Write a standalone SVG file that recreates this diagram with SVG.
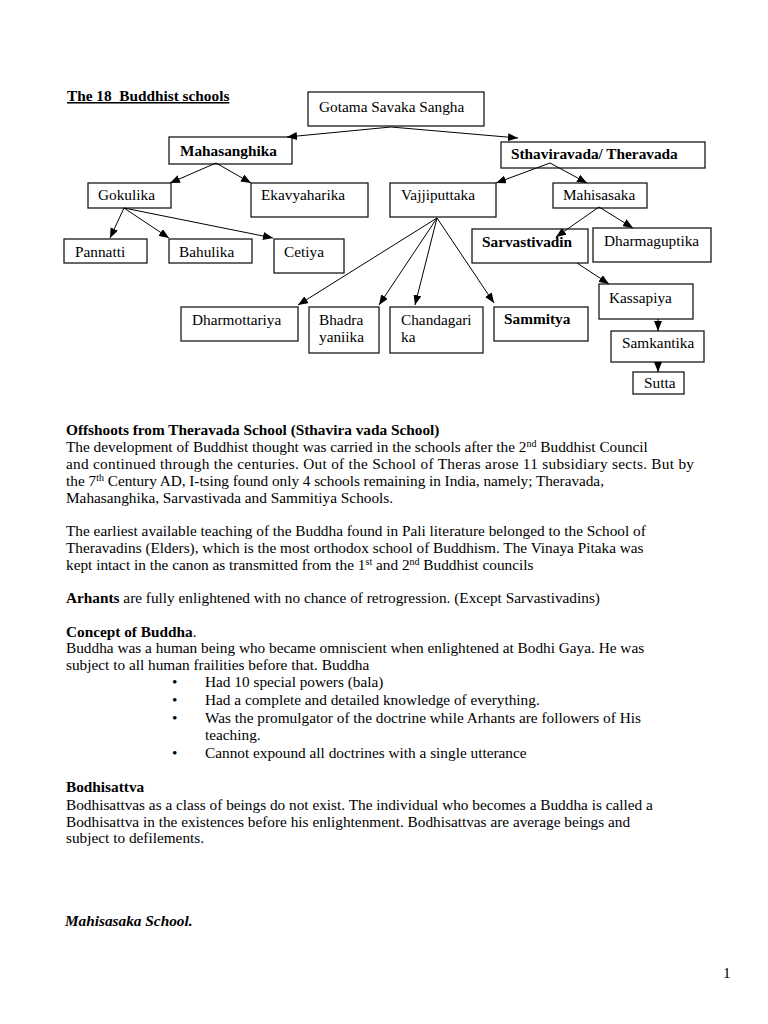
<svg xmlns="http://www.w3.org/2000/svg" width="768" height="1024" viewBox="0 0 768 1024">
<style>
text{font-family:"Liberation Serif","Times New Roman",serif;font-size:15.3px;fill:#000}
.b{font-weight:bold}
.box{fill:#fff;stroke:#1a1a1a;stroke-width:1.3}
.con{stroke:#000;stroke-width:1;fill:none;marker-end:url(#ah)}
.sup{font-size:10px}
</style>
<defs>
<marker id="ah" viewBox="0 0 10 8" refX="10" refY="4" markerWidth="10" markerHeight="8" markerUnits="userSpaceOnUse" orient="auto"><path d="M0,0 L10,4 L0,8 z" fill="#000"/></marker>
</defs>
<rect width="768" height="1024" fill="#fff"/>
<text x="67" y="101" class="b" text-decoration="underline">The 18&#160; Buddhist schools</text>

<g id="n-gotama"><rect class="box" x="308" y="92" width="176" height="34"/><text x="319" y="112">Gotama Savaka Sangha</text></g>
<g id="n-mahasanghika"><rect class="box" x="169" y="137" width="123" height="27"/><text x="180" y="156" class="b">Mahasanghika</text></g>
<g id="n-sthaviravada"><rect class="box" x="501" y="142" width="204" height="26"/><text x="511" y="159" class="b">Sthaviravada/ Theravada</text></g>
<g id="n-gokulika"><rect class="box" x="88" y="183" width="83" height="25"/><text x="98" y="200">Gokulika</text></g>
<g id="n-ekavyaharika"><rect class="box" x="251" y="183" width="117" height="34"/><text x="261" y="200">Ekavyaharika</text></g>
<g id="n-vajjiputtaka"><rect class="box" x="390" y="183" width="106" height="34"/><text x="401" y="200">Vajjiputtaka</text></g>
<g id="n-mahisasaka"><rect class="box" x="553" y="183" width="94" height="25"/><text x="563" y="200">Mahisasaka</text></g>
<g id="n-pannatti"><rect class="box" x="64" y="239" width="83" height="24"/><text x="75" y="257">Pannatti</text></g>
<g id="n-bahulika"><rect class="box" x="169" y="239" width="83" height="24"/><text x="179" y="257">Bahulika</text></g>
<g id="n-cetiya"><rect class="box" x="274" y="239" width="70" height="34"/><text x="284" y="257">Cetiya</text></g>
<g id="n-sarvastivadin"><rect class="box" x="472" y="229" width="116" height="34"/><text x="482" y="247" class="b">Sarvastivadin</text></g>
<g id="n-dharmaguptika"><rect class="box" x="593" y="228" width="118" height="34"/><text x="604" y="246">Dharmaguptika</text></g>
<g id="n-dharmottariya"><rect class="box" x="181" y="307" width="117" height="34"/><text x="192" y="325">Dharmottariya</text></g>
<g id="n-bhadrayaniika"><rect class="box" x="309" y="307" width="70" height="46"/><text x="319" y="325">Bhadra</text><text x="319" y="342">yaniika</text></g>
<g id="n-chandagarika"><rect class="box" x="390" y="307" width="93" height="46"/><text x="401" y="325">Chandagari</text><text x="401" y="342">ka</text></g>
<g id="n-sammitya"><rect class="box" x="494" y="307" width="94" height="34"/><text x="504" y="324" class="b">Sammitya</text></g>
<g id="n-kassapiya"><rect class="box" x="599" y="284" width="94" height="35"/><text x="609" y="303">Kassapiya</text></g>
<g id="n-samkantika"><rect class="box" x="611" y="331" width="93" height="31"/><text x="622" y="348">Samkantika</text></g>
<g id="n-sutta"><rect class="box" x="633" y="372" width="51" height="22"/><text x="644" y="388">Sutta</text></g>

<g id="connectors">
<line class="con" x1="391" y1="127" x2="287" y2="137"/>
<line class="con" x1="391" y1="127" x2="518" y2="138"/>
<line class="con" x1="216" y1="163" x2="170" y2="183"/>
<line class="con" x1="216" y1="163" x2="251" y2="183"/>
<line class="con" x1="124" y1="208" x2="110" y2="238"/>
<line class="con" x1="124" y1="208" x2="169" y2="238"/>
<line class="con" x1="124" y1="208" x2="273" y2="238"/>
<line class="con" x1="550" y1="163" x2="496" y2="183"/>
<line class="con" x1="550" y1="163" x2="587" y2="183"/>
<line class="con" x1="599" y1="207" x2="556" y2="237"/>
<line class="con" x1="599" y1="207" x2="633" y2="228"/>
<line class="con" x1="437" y1="218" x2="298" y2="305"/>
<line class="con" x1="437" y1="218" x2="379" y2="305"/>
<line class="con" x1="437" y1="218" x2="415" y2="305"/>
<line class="con" x1="437" y1="218" x2="494" y2="303"/>
<line class="con" x1="577" y1="263" x2="609" y2="284"/>
<line class="con" x1="658" y1="319" x2="658" y2="331"/>
<line class="con" x1="658" y1="362" x2="658" y2="372"/>
</g>

<g id="body">
<text x="66" y="435" class="b">Offshoots from Theravada School (Sthavira vada School)</text>
<text x="66" y="452">The development of Buddhist thought was carried in the schools after the 2<tspan class="sup" dy="-5">nd</tspan><tspan dy="5"> Buddhist Council</tspan></text>
<text x="66" y="469" textLength="628" lengthAdjust="spacing">and continued through the centuries. Out of the School of Theras arose 11 subsidiary sects. But by</text>
<text x="66" y="486">the 7<tspan class="sup" dy="-5">th</tspan><tspan dy="5" textLength="500" lengthAdjust="spacing"> Century AD, I-tsing found only 4 schools remaining in India, namely; Theravada,</tspan></text>
<text x="66" y="503">Mahasanghika, Sarvastivada and Sammitiya Schools.</text>
<text x="66" y="536">The earliest available teaching of the Buddha found in Pali literature belonged to the School of</text>
<text x="66" y="553">Theravadins (Elders), which is the most orthodox school of Buddhism. The Vinaya Pitaka was</text>
<text x="66" y="570">kept intact in the canon as transmitted from the 1<tspan class="sup" dy="-5">st</tspan><tspan dy="5"> and 2</tspan><tspan class="sup" dy="-5">nd</tspan><tspan dy="5"> Buddhist councils</tspan></text>
<text x="66" y="603"><tspan class="b">Arhants</tspan> are fully enlightened with no chance of retrogression. (Except Sarvastivadins)</text>
<text x="66" y="637"><tspan class="b">Concept of Buddha</tspan>.</text>
<text x="66" y="653">Buddha was a human being who became omniscient when enlightened at Bodhi Gaya. He was</text>
<text x="66" y="670">subject to all human frailities before that. Buddha</text>
<text x="172" y="687">•</text><text x="205" y="687">Had 10 special powers (bala)</text>
<text x="172" y="705">•</text><text x="205" y="705">Had a complete and detailed knowledge of everything.</text>
<text x="172" y="723">•</text><text x="205" y="723">Was the promulgator of the doctrine while Arhants are followers of His</text>
<text x="205" y="740">teaching.</text>
<text x="172" y="758">•</text><text x="205" y="758">Cannot expound all doctrines with a single utterance</text>
<text x="66" y="792" class="b">Bodhisattva</text>
<text x="66" y="810">Bodhisattvas as a class of beings do not exist. The individual who becomes a Buddha is called a</text>
<text x="66" y="827">Bodhisattva in the existences before his enlightenment. Bodhisattvas are average beings and</text>
<text x="66" y="843">subject to defilements.</text>
<text x="65" y="926" class="b" font-style="italic">Mahisasaka School.</text>
<text x="723" y="978">1</text>
</g>
</svg>
